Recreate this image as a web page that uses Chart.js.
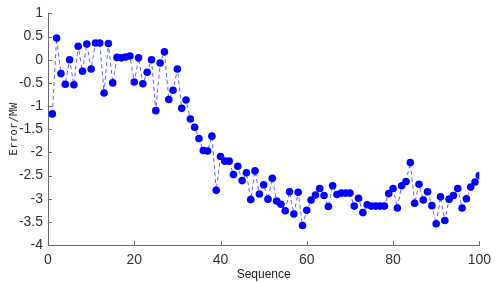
<!DOCTYPE html>
<html>
<head>
<meta charset="utf-8">
<script src="https://cdn.jsdelivr.net/npm/chart.js@4/dist/chart.umd.min.js"></script>
<style>
  html, body { margin: 0; padding: 0; background: #fff; }
  #wrap { width: 498px; height: 282px; }
</style>
</head>
<body>
<div id="wrap"><canvas id="errorChart" width="498" height="282"></canvas></div>
<script>
// sequence numbers 1..100
const sequence = Array.from({ length: 100 }, (_, i) => i + 1);

// error values (MW)
const errorValues = [
  -1.17, 0.47, -0.30, -0.53, 0.00, -0.54, 0.29, -0.25, 0.34, -0.20,
  0.36, 0.36, -0.72, 0.35, -0.50, 0.05, 0.04, 0.06, 0.08, -0.48,
  0.04, -0.52, -0.27, 0.00, -1.10, -0.07, 0.17, -0.86, -0.66, -0.20,
  -1.05, -0.87, -1.28, -1.46, -1.70, -1.96, -1.97, -1.65, -2.82, -2.09,
  -2.19, -2.19, -2.48, -2.30, -2.61, -2.44, -3.02, -2.40, -2.90, -2.70,
  -3.01, -2.56, -3.05, -3.12, -3.26, -2.85, -3.33, -2.86, -3.58, -3.25,
  -3.03, -2.92, -2.78, -2.93, -3.17, -2.72, -2.91, -2.88, -2.88, -2.88,
  -3.16, -2.99, -3.30, -3.13, -3.16, -3.16, -3.16, -3.16, -2.89, -2.78,
  -3.20, -2.72, -2.63, -2.22, -3.10, -2.69, -3.03, -2.85, -3.15, -3.54,
  -2.96, -3.47, -3.01, -2.93, -2.78, -3.20, -3.00, -2.75, -2.64, -2.50
];

const xTicks = [0, 20, 40, 60, 80, 100];
const yTicks = [1, 0.5, 0, -0.5, -1, -1.5, -2, -2.5, -3, -3.5, -4];

const axisColor = '#6a6a6a';

// MATLAB style ticks pointing into the plot
const inwardTicks = {
  id: 'inwardTicks',
  afterDraw(chart) {
    const ctx = chart.ctx;
    const area = chart.chartArea;
    const xs = chart.scales.x;
    const ys = chart.scales.y;
    ctx.save();
    ctx.strokeStyle = axisColor;
    ctx.lineWidth = 1;
    ctx.beginPath();
    xTicks.forEach(v => {
      const px = Math.round(xs.getPixelForValue(v)) + 0.5;
      ctx.moveTo(px, area.bottom);
      ctx.lineTo(px, area.bottom - 4);
    });
    yTicks.forEach(v => {
      const py = Math.round(ys.getPixelForValue(v)) + 0.5;
      ctx.moveTo(area.left, py);
      ctx.lineTo(area.left + 4, py);
    });
    ctx.stroke();
    ctx.restore();
  }
};

new Chart(document.getElementById('errorChart'), {
  type: 'line',
  data: {
    datasets: [{
      data: sequence.map((s, i) => ({ x: s, y: errorValues[i] })),
      borderColor: 'rgba(70, 70, 255, 0.85)',
      borderWidth: 1,
      borderDash: [4, 3],
      pointRadius: 3.8,
      pointBackgroundColor: '#0000ff',
      pointBorderWidth: 0,
      tension: 0
    }]
  },
  options: {
    responsive: false,
    animation: false,
    layout: { padding: { top: 7, right: 17, left: 0, bottom: 0 } },
    plugins: {
      legend: { display: false },
      tooltip: { enabled: false }
    },
    scales: {
      x: {
        type: 'linear',
        min: 0,
        max: 100,
        afterBuildTicks: scale => { scale.ticks = xTicks.map(v => ({ value: v })); },
        afterFit: scale => { scale.height = 37; },
        grid: { display: true, drawOnChartArea: false, drawTicks: false },
        border: { display: true, color: axisColor, width: 1 },
        ticks: {
          padding: 7,
          maxRotation: 0,
          color: '#333',
          callback: v => String(v),
          font: { family: 'Liberation Sans, Arial', size: 14 }
        },
        title: {
          display: true,
          text: 'Sequence',
          color: '#222',
          padding: { top: -3, bottom: 0 },
          font: { family: 'Liberation Sans, Arial', size: 12 }
        }
      },
      y: {
        min: -4,
        max: 1,
        afterBuildTicks: scale => { scale.ticks = yTicks.map(v => ({ value: v })); },
        afterFit: scale => { scale.width = 48; },
        grid: { display: true, drawOnChartArea: false, drawTicks: false },
        border: { display: true, color: axisColor, width: 1 },
        ticks: {
          padding: 5,
          color: '#333',
          callback: v => String(v),
          font: { family: 'Liberation Sans, Arial', size: 14 }
        },
        title: {
          display: true,
          text: 'Error/MW',
          color: '#333',
          padding: { top: 8, bottom: 0 },
          font: { family: 'DejaVu Sans Mono', size: 11 }
        }
      }
    }
  },
  plugins: [inwardTicks]
});
</script>
</body>
</html>
